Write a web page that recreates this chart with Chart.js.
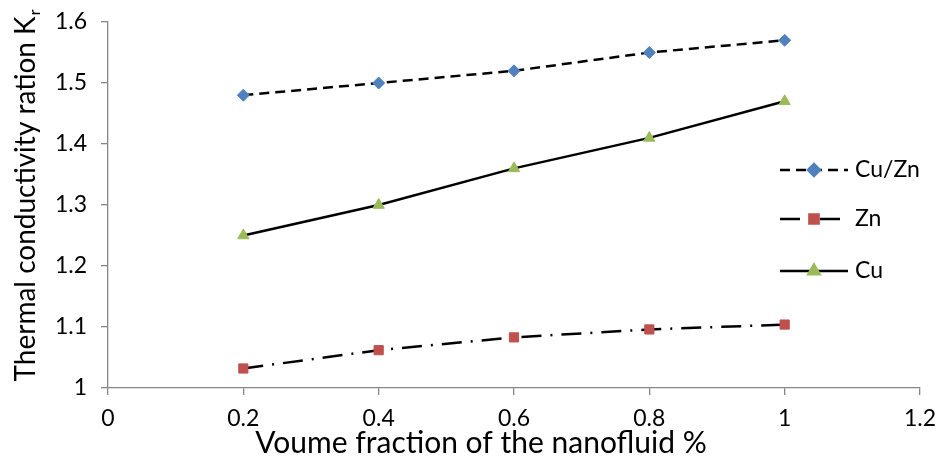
<!DOCTYPE html>
<html>
<head>
<meta charset="utf-8">
<script src="https://cdn.jsdelivr.net/npm/chart.js@4/dist/chart.umd.min.js"></script>
<style>
html,body{margin:0;padding:0;background:#fff;}
#wrap{width:941px;height:458px;position:relative;}
</style>
</head>
<body>
<div id="wrap"><canvas id="c" width="941" height="458"></canvas></div>
<script>
const xValues = [0.2, 0.4, 0.6, 0.8, 1.0];
const cuZn = [1.48, 1.50, 1.52, 1.55, 1.57];
const zn = [1.032, 1.062, 1.083, 1.096, 1.104];
const cu = [1.25, 1.30, 1.36, 1.41, 1.47];
const xTickLabels = ['0', '0.2', '0.4', '0.6', '0.8', '1', '1.2'];
const yTickLabels = ['1', '1.1', '1.2', '1.3', '1.4', '1.5', '1.6'];
const seriesNames = ['Cu/Zn', 'Zn', 'Cu'];
const xTitle = 'Voume fraction of the nanofluid %';
const yTitleMain = 'Thermal conductivity ration K';
const yTitleSub = 'r';

const FONT = 'Lato, "Open Sans", sans-serif';
const pts = arr => arr.map((v, i) => ({x: xValues[i], y: v}));

const legendPlugin = {
  id: 'customLegend',
  afterDatasetsDraw(chart) {
    const ctx = chart.ctx;
    const rows = [170, 219, 271];
    chart.data.datasets.forEach((ds, i) => {
      const y = rows[i];
      ctx.save();
      ctx.strokeStyle = ds.borderColor;
      ctx.lineWidth = ds.borderWidth;
      ctx.setLineDash(ds.legendDash || []);
      ctx.beginPath();
      ctx.moveTo(780, y);
      ctx.lineTo(848, y);
      ctx.stroke();
      ctx.setLineDash([]);
      ctx.fillStyle = ds.pointBackgroundColor;
      ctx.strokeStyle = ds.pointBackgroundColor;
      Chart.helpers.drawPoint(ctx, {
        pointStyle: ds.pointStyle,
        radius: ds.pointRadius,
        rotation: 0,
        borderWidth: 1
      }, 814, y);
      ctx.fillStyle = '#000';
      ctx.font = '23px ' + FONT;
      ctx.textBaseline = 'middle';
      ctx.textAlign = 'left';
      ctx.fillText(ds.label, 855, y);
      ctx.restore();
    });
  }
};

const titlePlugin = {
  id: 'axisTitles',
  afterDraw(chart) {
    const ctx = chart.ctx;
    ctx.save();
    ctx.fillStyle = '#000';
    ctx.font = '30px ' + FONT;
    ctx.textAlign = 'center';
    ctx.textBaseline = 'alphabetic';
    ctx.fillText(xTitle, 481, 453);
    ctx.restore();

    ctx.save();
    ctx.translate(35, 196);
    ctx.rotate(-Math.PI / 2);
    ctx.fillStyle = '#000';
    ctx.font = '28px ' + FONT;
    const wMain = ctx.measureText(yTitleMain).width;
    ctx.font = '16px ' + FONT;
    const wSub = ctx.measureText(yTitleSub).width;
    const total = wMain + wSub;
    ctx.textBaseline = 'alphabetic';
    ctx.textAlign = 'left';
    ctx.font = '28px ' + FONT;
    ctx.fillText(yTitleMain, -total / 2, 0);
    ctx.font = '16px ' + FONT;
    ctx.fillText(yTitleSub, -total / 2 + wMain + 1, 5);
    ctx.restore();
  }
};

new Chart(document.getElementById('c'), {
  type: 'line',
  data: {
    datasets: [
      {
        label: seriesNames[0],
        data: pts(cuZn),
        borderColor: '#000',
        borderWidth: 2.5,
        borderDash: [10, 6],
        legendDash: [10, 6],
        pointStyle: 'rectRot',
        pointRadius: 6,
        pointHoverRadius: 6,
        pointBackgroundColor: '#4F81BD',
        pointBorderColor: '#4F81BD',
        pointBorderWidth: 1,
        tension: 0
      },
      {
        label: seriesNames[1],
        data: pts(zn),
        borderColor: '#000',
        borderWidth: 2.5,
        borderDash: [20, 9, 2, 9],
        legendDash: [20, 9, 2, 9],
        pointStyle: 'rect',
        pointRadius: 6.5,
        pointHoverRadius: 6.5,
        pointBackgroundColor: '#C0504D',
        pointBorderColor: '#C0504D',
        pointBorderWidth: 1,
        tension: 0
      },
      {
        label: seriesNames[2],
        data: pts(cu),
        borderColor: '#000',
        borderWidth: 2.5,
        borderDash: [],
        legendDash: [],
        pointStyle: 'triangle',
        pointRadius: 6.5,
        pointHoverRadius: 6.5,
        pointBackgroundColor: '#9BBB59',
        pointBorderColor: '#9BBB59',
        pointBorderWidth: 1,
        tension: 0
      }
    ]
  },
  options: {
    responsive: false,
    animation: false,
    events: [],
    layout: {padding: {left: 0, top: 22, right: 21, bottom: 0}},
    plugins: {
      legend: {display: false},
      tooltip: {enabled: false},
      title: {display: false}
    },
    scales: {
      x: {
        type: 'linear',
        min: 0,
        max: 1.2,
        afterFit(scale) {
          scale.height = 70;
          scale.paddingLeft = 0; scale.paddingRight = 0;
          scale.paddingTop = 0; scale.paddingBottom = 0;
        },
        afterBuildTicks(scale) {
          scale.ticks = xTickLabels.map(t => ({value: parseFloat(t)}));
        },
        ticks: {
          autoSkip: false,
          maxRotation: 0,
          padding: 10,
          color: '#000',
          font: {family: FONT, size: 23},
          callback: (v, i) => xTickLabels[i]
        },
        grid: {
          drawOnChartArea: false,
          drawTicks: true,
          tickLength: 7,
          color: '#868686',
          lineWidth: 1.3
        },
        border: {display: true, color: '#868686', width: 1.3}
      },
      y: {
        type: 'linear',
        min: 1,
        max: 1.6,
        afterFit(scale) {
          scale.width = 108;
          scale.paddingLeft = 0; scale.paddingRight = 0;
          scale.paddingTop = 0; scale.paddingBottom = 0;
        },
        afterBuildTicks(scale) {
          scale.ticks = yTickLabels.map(t => ({value: parseFloat(t)}));
        },
        ticks: {
          autoSkip: false,
          padding: 14,
          color: '#000',
          font: {family: FONT, size: 23},
          callback: (v, i) => yTickLabels[i]
        },
        grid: {
          drawOnChartArea: false,
          drawTicks: true,
          tickLength: 7,
          color: '#868686',
          lineWidth: 1.3
        },
        border: {display: true, color: '#868686', width: 1.3}
      }
    }
  },
  plugins: [legendPlugin, titlePlugin]
});
</script>
</body>
</html>
